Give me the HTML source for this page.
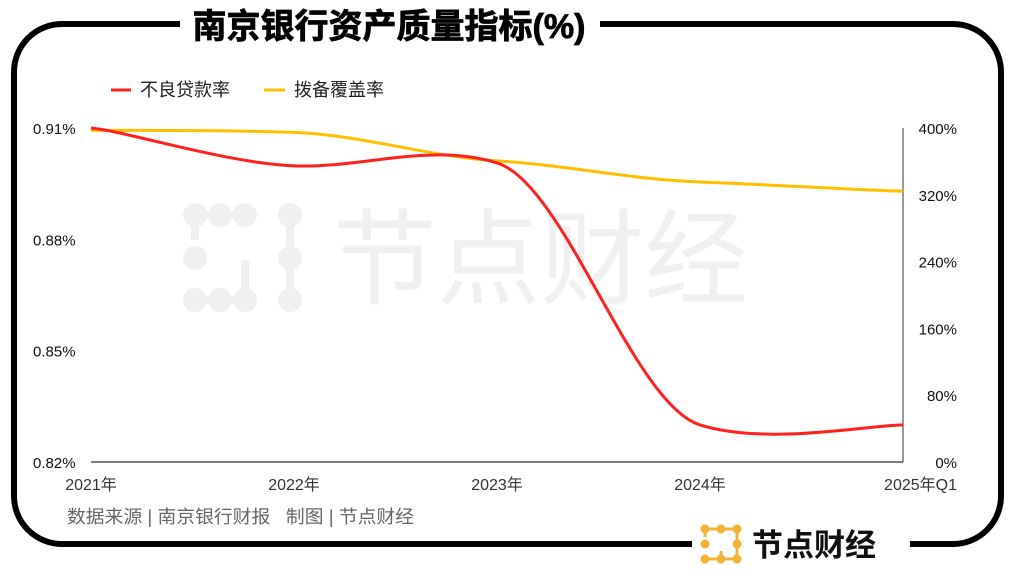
<!DOCTYPE html>
<html><head><meta charset="utf-8"><style>
html,body{margin:0;padding:0;background:#fff;}
body{width:1015px;height:576px;overflow:hidden;font-family:"Liberation Sans","Noto Sans CJK SC",sans-serif;}
</style></head><body>
<svg id="chart" width="1015" height="576" viewBox="0 0 1015 576" xmlns="http://www.w3.org/2000/svg" style="font-family:'Liberation Sans','Noto Sans CJK SC',sans-serif">
<rect x="14" y="24" width="987" height="520" rx="48" ry="48" fill="none" stroke="#000" stroke-width="6"/>
<rect x="180" y="5" width="420" height="40" fill="#fff"/>
<text x="389" y="38" text-anchor="middle" font-size="34" font-weight="bold" fill="#000" stroke="#000" stroke-width="0.8">南京银行资产质量指标(%)</text>
<rect x="692" y="525" width="218" height="40" fill="#fff"/>
<g fill="#f0f0f0">
  <g stroke="#f0f0f0" stroke-width="8"><line x1="195" y1="215" x2="245" y2="215"/><line x1="195" y1="300" x2="245" y2="300"/><line x1="290" y1="215" x2="290" y2="300"/><line x1="195" y1="215" x2="195" y2="240"/><line x1="245" y1="260" x2="245" y2="300"/></g>
  <circle cx="195" cy="215" r="12"/><circle cx="220" cy="215" r="12"/><circle cx="245" cy="215" r="12"/><circle cx="195" cy="300" r="12"/><circle cx="220" cy="300" r="12"/><circle cx="245" cy="300" r="12"/><circle cx="290" cy="215" r="12"/><circle cx="290" cy="258" r="12"/><circle cx="290" cy="300" r="12"/><circle cx="195" cy="258" r="12"/>
  <text x="333" y="296" font-size="104" textLength="415" lengthAdjust="spacingAndGlyphs">节点财经</text>
</g>
<g id="legend" font-size="18" fill="#222">
  <g><line x1="111" y1="90" x2="131" y2="90" stroke="#ff2020" stroke-width="3"/><text x="140" y="96">不良贷款率</text></g>
  <g><line x1="264" y1="90" x2="285" y2="90" stroke="#ffbf00" stroke-width="3"/><text x="294" y="96">拨备覆盖率</text></g>
</g>
<g id="axes"></g>
<g id="series"></g>
<text x="67" y="523" font-size="18" fill="#666" xml:space="preserve" style="white-space:pre" textLength="347" lengthAdjust="spacingAndGlyphs">数据来源 | 南京银行财报   制图 | 节点财经</text>
<g>
  <g stroke="#f5b335" stroke-width="3"><line x1="705" y1="529" x2="737" y2="529"/><line x1="705" y1="559" x2="737" y2="559"/><line x1="737" y1="529" x2="737" y2="559"/><line x1="705" y1="529" x2="705" y2="537"/><line x1="721" y1="551" x2="721" y2="559"/></g>
  <g fill="#f5b335"><circle cx="705" cy="529" r="4.5"/><circle cx="721" cy="529" r="4.5"/><circle cx="737" cy="529" r="4.5"/><circle cx="705" cy="559" r="4.5"/><circle cx="721" cy="559" r="4.5"/><circle cx="737" cy="559" r="4.5"/><circle cx="737" cy="544" r="4.5"/><circle cx="705" cy="544" r="4.5"/></g>
  <text x="752" y="556" font-size="31" font-weight="bold" fill="#111">节点财经</text>
</g>
</svg>
<script>
const categories=["2021年","2022年","2023年","2024年","2025年Q1"];
const nplValues=[0.91,0.8998,0.9006,0.83,0.83];
const coverageValues=[397.19,394.8,360.58,335.27,324.22];
const leftTicks=[0.82,0.85,0.88,0.91];
const leftTickLabels=["0.82%","0.85%","0.88%","0.91%"];
const rightTicks=[0,80,160,240,320,400];
const NS="http://www.w3.org/2000/svg";
const X0=91,X1=903,Y0=462,Y1=128;
function xPos(i){return X0+(X1-X0)*i/(categories.length-1);}
function yLeft(v){return Y0-(v-0.82)/(0.91-0.82)*(Y0-Y1);}
function yRight(v){return Y0-v/400*(Y0-Y1);}
function mk(tag,attrs,parent){const e=document.createElementNS(NS,tag);for(const k in attrs)e.setAttribute(k,attrs[k]);parent.appendChild(e);return e;}
const axes=document.getElementById('axes');
const base=mk('line',{x1:X0,y1:Y0,x2:X1,y2:Y0,stroke:'#333','stroke-width':1.2},axes);


const rl=mk('line',{x1:X1,y1:Y1,x2:X1,y2:Y0,stroke:'#333','stroke-width':1},axes);


leftTicks.forEach((v,i)=>{const t=mk('text',{x:33,y:yLeft(v)+6,'font-size':15,fill:'#111'},axes);t.textContent=leftTickLabels[i];

});
rightTicks.forEach(v=>{const t=mk('text',{x:957,y:yRight(v)+6,'font-size':15,fill:'#111','text-anchor':'end'},axes);t.textContent=v+'%';

});
categories.forEach((c,i)=>{let x=xPos(i);let anchor='middle';if(i===categories.length-1){x=957;anchor='end';}
const t=mk('text',{x:x,y:490,'font-size':16,fill:'#333','text-anchor':anchor},axes);t.textContent=c;

});
function smooth(pts){let d='M'+pts[0][0]+','+pts[0][1];const s=0.08,sx=1/6;
for(let i=0;i<pts.length-1;i++){const p0=pts[i-1]||pts[i],p1=pts[i],p2=pts[i+1],p3=pts[i+2]||p2;
const c1=[p1[0]+(p2[0]-p0[0])*sx,p1[1]+(p2[1]-p0[1])*s],c2=[p2[0]-(p3[0]-p1[0])*sx,p2[1]-(p3[1]-p1[1])*s];
d+=' C'+c1[0]+','+c1[1]+' '+c2[0]+','+c2[1]+' '+p2[0]+','+p2[1];}return d;}
const series=document.getElementById('series');
const cov=mk('path',{d:smooth(coverageValues.map((v,i)=>[xPos(i),yRight(v)])),fill:'none',stroke:'#ffbf00','stroke-width':3},series);


const npl=mk('path',{d:smooth(nplValues.map((v,i)=>[xPos(i),yLeft(v)])),fill:'none',stroke:'#ff2020','stroke-width':3},series);


</script>
</body></html>
